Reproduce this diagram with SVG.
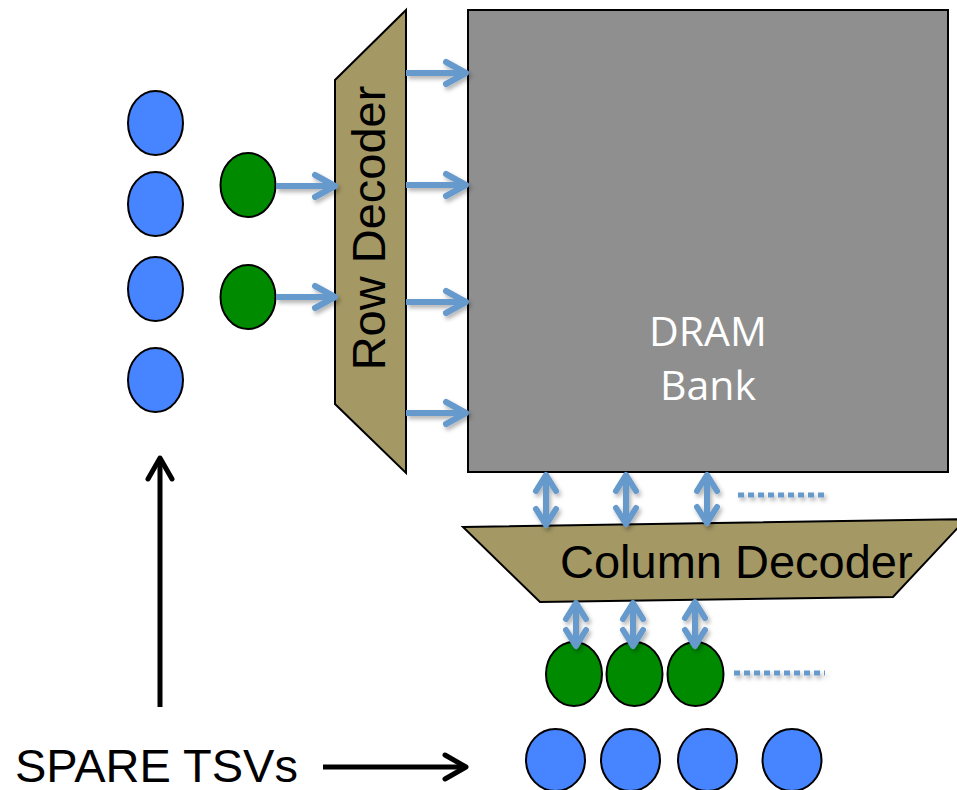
<svg xmlns="http://www.w3.org/2000/svg" width="957" height="790" viewBox="0 0 957 790">
  <defs>
    <style>
      .tsv-blue { fill: #4784ff; stroke: #000; stroke-width: 2; }
      .tsv-green { fill: #008a00; stroke: #000; stroke-width: 2; }
      .decoder { fill: #a49865; stroke: #000; stroke-width: 2; stroke-linejoin: miter; }
      .bank { fill: #8f8f8f; stroke: #000; stroke-width: 2; }
      .label { font-family: "Liberation Sans", Arial, sans-serif; font-size: 47px; fill: #000; }
      .bank-label { font-family: "Open Sans", "Liberation Sans", sans-serif; font-size: 41px; fill: #fff; text-anchor: middle; }
      .link { fill: none; stroke: #6699cc; stroke-width: 6; }
      .dots { fill: none; stroke: #6699cc; stroke-width: 5; stroke-dasharray: 6 4; }
      .pointer { fill: none; stroke: #000; stroke-width: 5; }
    </style>
    <marker id="blueHead" viewBox="-25 -15 30 30" markerWidth="30" markerHeight="30" refX="0" refY="0" markerUnits="userSpaceOnUse" orient="auto" overflow="visible">
      <path d="M -20 -11 L 0 0 L -20 11" fill="none" stroke="#6699cc" stroke-width="6" stroke-linecap="round" stroke-linejoin="round"/>
    </marker>
    <marker id="blueHeadShort" viewBox="-25 -15 30 30" markerWidth="30" markerHeight="30" refX="0" refY="0" markerUnits="userSpaceOnUse" orient="auto-start-reverse" overflow="visible">
      <path d="M -16 -10 L 0 0 L -16 10" fill="none" stroke="#6699cc" stroke-width="6" stroke-linecap="round" stroke-linejoin="round"/>
    </marker>
    <marker id="blackHead" viewBox="-25 -15 30 30" markerWidth="30" markerHeight="30" refX="0" refY="0" markerUnits="userSpaceOnUse" orient="auto" overflow="visible">
      <path d="M -21 -12 L 0 0 L -21 12" fill="none" stroke="#000" stroke-width="5" stroke-linecap="round" stroke-linejoin="round"/>
    </marker>
    <filter id="softShadow" x="-20%" y="-20%" width="140%" height="140%">
      <feDropShadow dx="2" dy="3" stdDeviation="2" flood-color="#000" flood-opacity="0.3"/>
    </filter>
  </defs>

  <!-- memory array -->
  <g id="dram-bank">
    <rect class="bank" x="468" y="10" width="480" height="462"/>
    <text class="bank-label" x="708" y="346">DRAM</text>
    <text class="bank-label" x="708" y="400">Bank</text>
  </g>

  <!-- decoders -->
  <g id="row-decoder">
    <polygon class="decoder" points="406,10 335,80 335,404 406,473"/>
    <text class="label" text-anchor="middle" transform="translate(385,228) rotate(-90)">Row Decoder</text>
  </g>
  <g id="column-decoder">
    <polygon class="decoder" points="463,527 966,519 893,597 540,602"/>
    <text class="label" x="560" y="578">Column Decoder</text>
  </g>

  <!-- TSVs beside the row decoder -->
  <g id="spare-tsv-left-1"><ellipse class="tsv-blue" cx="155.5" cy="123" rx="27.5" ry="32"/></g>
  <g id="spare-tsv-left-2"><ellipse class="tsv-blue" cx="155.5" cy="204" rx="27.5" ry="32"/></g>
  <g id="spare-tsv-left-3"><ellipse class="tsv-blue" cx="155.5" cy="289" rx="27.5" ry="32"/></g>
  <g id="spare-tsv-left-4"><ellipse class="tsv-blue" cx="155.5" cy="380" rx="27.5" ry="32"/></g>
  <g id="row-tsv-1"><ellipse class="tsv-green" cx="248" cy="185" rx="27.5" ry="32"/></g>
  <g id="row-tsv-2"><ellipse class="tsv-green" cx="248" cy="297" rx="27.5" ry="32"/></g>

  <!-- TSVs below the column decoder -->
  <g id="col-tsv-1"><ellipse class="tsv-green" cx="574" cy="674" rx="28" ry="32"/></g>
  <g id="col-tsv-2"><ellipse class="tsv-green" cx="634.5" cy="674" rx="28" ry="32"/></g>
  <g id="col-tsv-3"><ellipse class="tsv-green" cx="695.5" cy="674" rx="28" ry="32"/></g>
  <g id="spare-tsv-bottom-1"><ellipse class="tsv-blue" cx="555.5" cy="760" rx="29.5" ry="31"/></g>
  <g id="spare-tsv-bottom-2"><ellipse class="tsv-blue" cx="630.5" cy="760" rx="29.5" ry="31"/></g>
  <g id="spare-tsv-bottom-3"><ellipse class="tsv-blue" cx="707.5" cy="760" rx="29.5" ry="31"/></g>
  <g id="spare-tsv-bottom-4"><ellipse class="tsv-blue" cx="792" cy="760" rx="29.5" ry="31"/></g>

  <g id="spare-label">
    <text class="label" x="15" y="782">SPARE TSVs</text>
  </g>

  <!-- connectors -->
  <g id="connectors">
    <g filter="url(#softShadow)">
      <!-- row TSVs into the row decoder -->
      <line class="link" x1="276" y1="186" x2="335" y2="186" marker-end="url(#blueHead)"/>
      <line class="link" x1="276" y1="297" x2="335" y2="297" marker-end="url(#blueHead)"/>
      <!-- word lines into the bank -->
      <line class="link" x1="406" y1="73" x2="466" y2="73" marker-end="url(#blueHead)"/>
      <line class="link" x1="406" y1="185" x2="466" y2="185" marker-end="url(#blueHead)"/>
      <line class="link" x1="406" y1="302" x2="466" y2="302" marker-end="url(#blueHead)"/>
      <line class="link" x1="406" y1="413" x2="466" y2="413" marker-end="url(#blueHead)"/>
      <!-- bit lines between bank and column decoder -->
      <line class="link" x1="546" y1="475" x2="546" y2="525" marker-start="url(#blueHeadShort)" marker-end="url(#blueHeadShort)"/>
      <line class="link" x1="626" y1="475" x2="626" y2="524" marker-start="url(#blueHeadShort)" marker-end="url(#blueHeadShort)"/>
      <line class="link" x1="707" y1="475" x2="707" y2="523" marker-start="url(#blueHeadShort)" marker-end="url(#blueHeadShort)"/>
      <line class="dots" x1="738" y1="495" x2="828" y2="495"/>
      <!-- column decoder to column TSVs -->
      <line class="link" x1="576" y1="603" x2="576" y2="646" marker-start="url(#blueHeadShort)" marker-end="url(#blueHeadShort)"/>
      <line class="link" x1="633" y1="603" x2="633" y2="646" marker-start="url(#blueHeadShort)" marker-end="url(#blueHeadShort)"/>
      <line class="link" x1="695" y1="602" x2="695" y2="646" marker-start="url(#blueHeadShort)" marker-end="url(#blueHeadShort)"/>
      <line class="dots" x1="734" y1="673" x2="825" y2="673"/>
    </g>
    <!-- pointers from the label -->
    <line class="pointer" x1="160" y1="707" x2="160" y2="458" marker-end="url(#blackHead)"/>
    <line class="pointer" x1="323" y1="767" x2="466" y2="767" marker-end="url(#blackHead)"/>
  </g>
</svg>
